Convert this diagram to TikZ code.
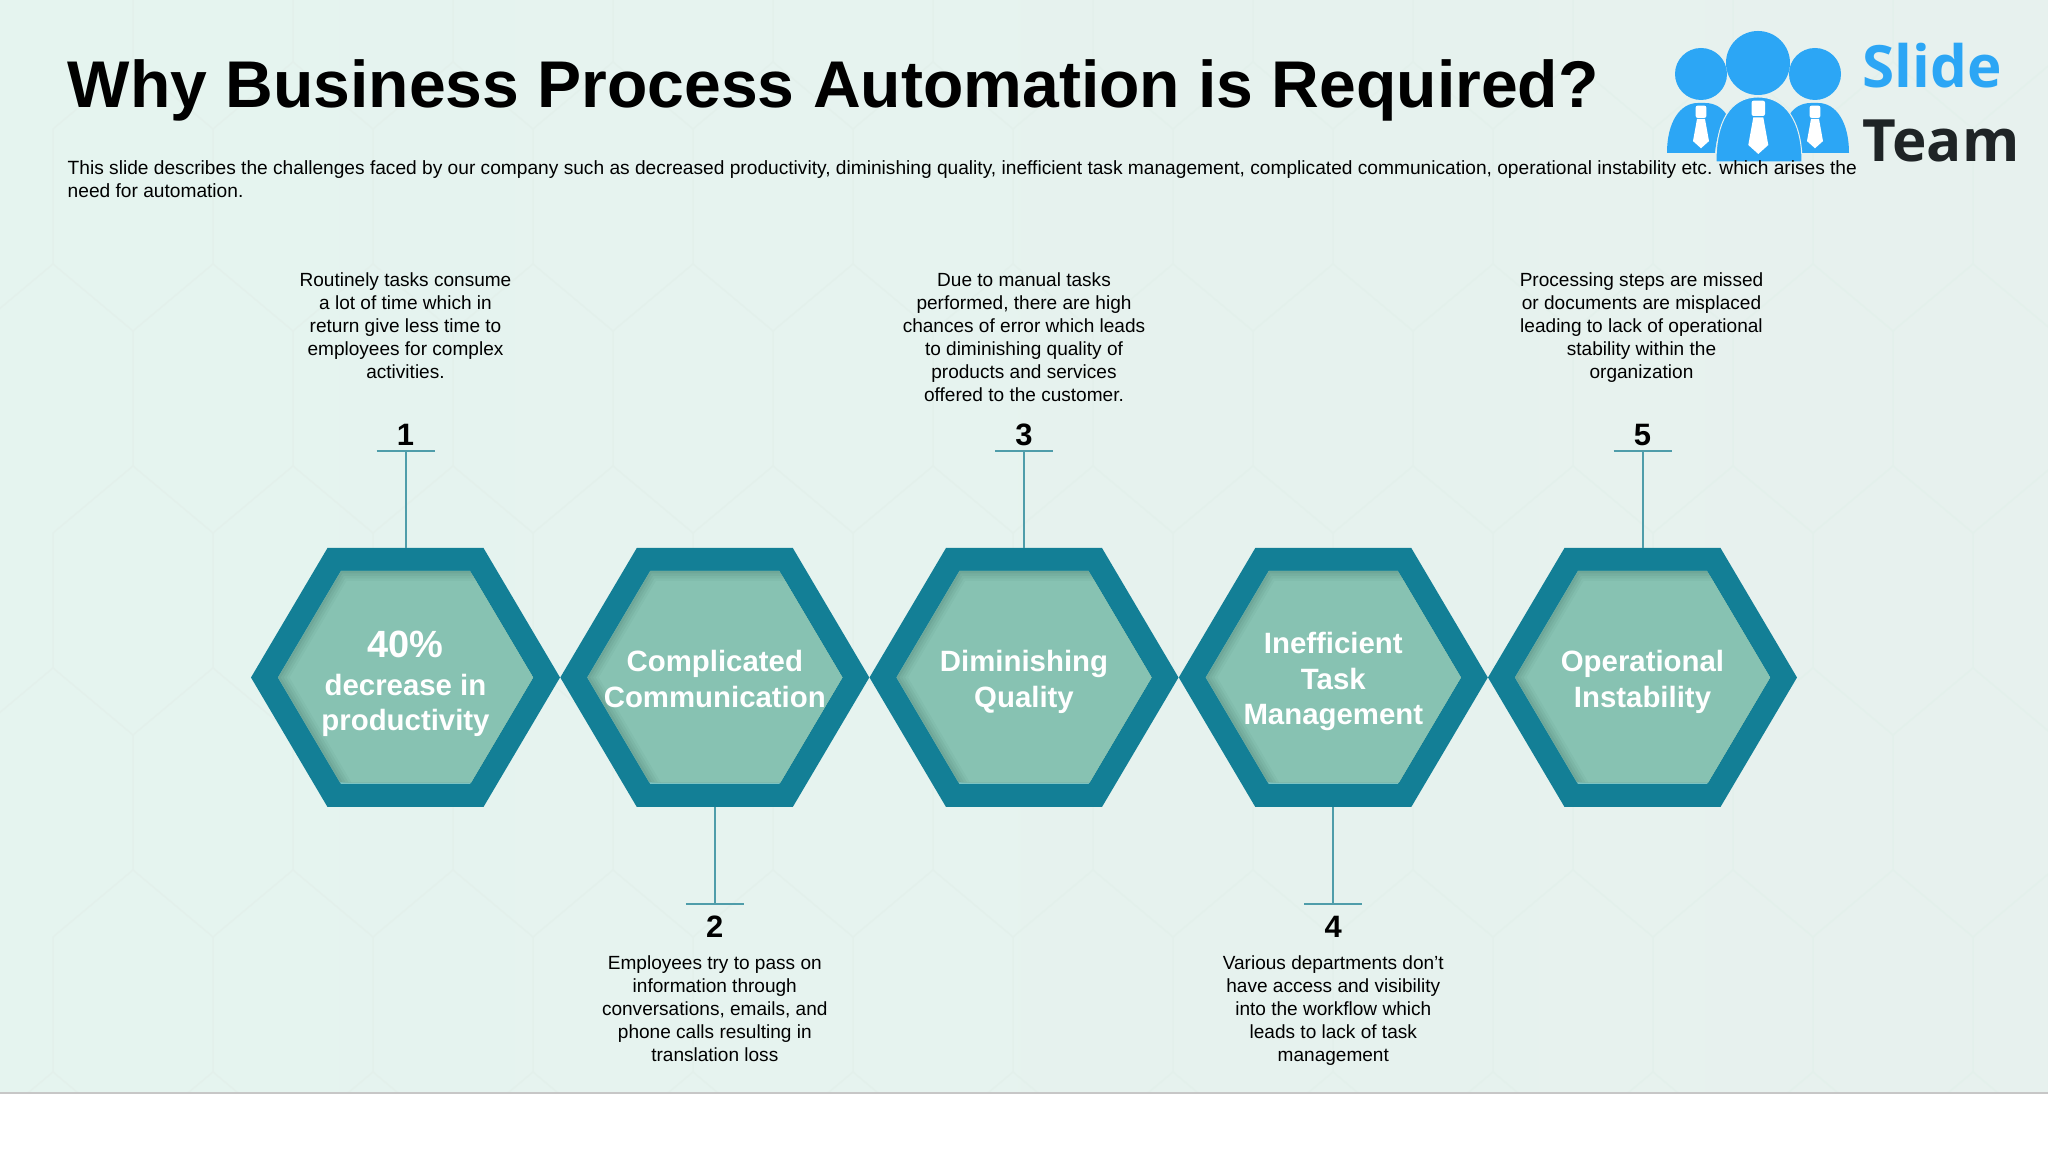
\documentclass[tikz,border=0pt]{standalone}
\usepackage{fontspec}
\setmainfont{Liberation Sans}
\newfontfamily\logofont{Open Sans}
\usetikzlibrary{positioning}

\definecolor{slideleft}{HTML}{E5F4EF}
\definecolor{slideright}{HTML}{E7F1EE}
\definecolor{combline}{HTML}{E3F0EB}
\definecolor{hexrim}{HTML}{137F96}
\definecolor{hexcore}{HTML}{87C2B2}
\definecolor{hexshade}{HTML}{6FA798}
\definecolor{hexlow}{HTML}{7CC4C4}
\definecolor{stemcol}{HTML}{4F9DAA}
\definecolor{logoblue}{HTML}{2CA6F5}
\definecolor{logodark}{HTML}{1F2426}

\tikzset{
    hexlabel/.style={text=white, font=\fontsize{8.36}{10.2}\selectfont\bfseries, align=center, inner sep=0pt},
    hexnum/.style={font=\fontsize{8.8}{10}\selectfont\bfseries, inner sep=0pt},
    hexnote/.style={font=\fontsize{5.42}{6.56}\selectfont, align=center, inner sep=0pt},
    logoword/.style={font=\fontsize{16.6}{18}\selectfont\logofont\bfseries, anchor=base west, inner sep=0pt},
    stem/.style={stemcol, line width=.2mm},
    tick/.style={stemcol, line width=.15mm},
}

\begin{document}
\begin{tikzpicture}

    \useasboundingbox (0,0) rectangle (20.48,11.52);
    \fill[white] (0,0) rectangle (20.48,11.52);
    \shade[left color=slideleft, right color=slideright] (0,.59) rectangle (20.48,11.52);

    % faint comb behind everything
    \begin{scope}
        \clip (0,.59) rectangle (20.48,11.52);
        \foreach \k in {0,...,25} {
            \foreach \r in {-2,...,3} {
                \pgfmathsetmacro{\xx}{.53+.8*\k}
                \pgfmathsetmacro{\yy}{4.84+4.04*\r+2.02*mod(\k,2)}
                \draw[combline, line width=.15mm] (\xx,\yy+1.35) -- (\xx,\yy) -- (\xx-.8,\yy-.67);
                \draw[combline, line width=.15mm] (\xx,\yy) -- (\xx+.8,\yy-.67);
            }
        }
    \end{scope}

    \draw[black!22, line width=.2mm] (0,.59) -- (20.48,.59);

    % logo
    \fill[logoblue] (17.01,10.78) circle (.26);
    \fill[logoblue] (18.15,10.78) circle (.26);
    \fill[logoblue] (17.58,10.89) circle (.32);
    \fill[logoblue] (16.67,9.99) .. controls (16.67,10.3) and (16.8,10.49) .. (16.98,10.49) -- (17.05,10.49) .. controls (17.15,10.49) and (17.22,10.44) .. (17.26,10.38) .. controls (17.2,10.25) and (17.16,10.12) .. (17.15,9.99) -- cycle;
    \fill[logoblue] (18.49,9.99) .. controls (18.49,10.3) and (18.36,10.49) .. (18.18,10.49) -- (18.11,10.49) .. controls (18.01,10.49) and (17.94,10.44) .. (17.9,10.38) .. controls (17.96,10.25) and (18,10.12) .. (18.01,9.99) -- cycle;
    \fill[logoblue, draw=slideright, line width=.1mm] (17.16,9.9) .. controls (17.16,10.3) and (17.3,10.55) .. (17.58,10.55) .. controls (17.86,10.55) and (18.02,10.3) .. (18.02,9.9) -- cycle;
    \foreach \tx/\ty/\ts in {17.01/10.037/.8, 17.583/9.98/1, 18.15/10.037/.8} {
        \fill[white, rounded corners=.2mm] (\tx-.067*\ts,\ty+.38*\ts) rectangle (\tx+.067*\ts,\ty+.533*\ts);
        \fill[white] (\tx-.05*\ts,\ty+.367*\ts) -- (\tx+.05*\ts,\ty+.367*\ts) -- (\tx+.1*\ts,\ty+.09*\ts) -- (\tx,\ty) -- (\tx-.1*\ts,\ty+.09*\ts) -- cycle;
    }
    \node[logoblue, logoword] (logoa) at (18.62,10.64) {Slide};
    \node[logodark, logoword] (logob) at (18.62,9.905) {Team};

    % heading
    \node[font=\fontsize{18.8}{22}\selectfont\bfseries, anchor=west, inner sep=0pt] (title) at (.67,10.62) {Why Business Process Automation is Required?};
    \node[font=\fontsize{5.45}{6.56}\selectfont, anchor=north west, align=left, inner sep=0pt] (intro) at (.67,9.92) {This slide describes the challenges faced by our company such as decreased productivity, diminishing quality, inefficient task management, complicated communication, operational instability etc. which arises the\\need for automation.};

    % hexagons
    \foreach \n/\cx/\dy/\lab in {
        1/4.055/-.065/{\fontsize{10.8}{13}\selectfont 40\%\\[.5pt]decrease in\\productivity},
        2/7.148/-.015/{Complicated\\Communication},
        3/10.24/-.04/{Diminishing\\Quality},
        4/13.333/-.04/{Inefficient\\Task\\Management},
        5/16.425/-.04/{Operational\\Instability}} {
        \begin{scope}[shift={(\cx,4.745)}]
            \fill[hexrim] (-1.545,0) -- (-.78,1.295) -- (.78,1.295) -- (1.545,0) -- (.78,-1.295) -- (-.78,-1.295) -- cycle;
            \fill[hexlow] (-1.275,0) -- (-.645,1.065) -- (.645,1.065) -- (1.275,0) -- (.645,-1.065) -- (-.645,-1.065) -- cycle;
            % soft inner shadow, top and left
            \foreach \d/\m in {0/0, .025/30, .05/55, .075/80, .1/100} {
                \fill[hexcore!\m!hexshade] (-1.275+1.16*\d,0) -- (-.645+.57*\d,1.065-\d) -- (.645+.59*\d,1.065-\d) -- (1.275,0) -- (.655,-1.05) -- (-.655+1.16*\d,-1.05) -- cycle;
            }
            \node[hexlabel] (hex\n) at (0,\dy) {\lab};
            \coordinate (hexedge\n) at (0,1.295);
            \coordinate (hexfoot\n) at (0,-1.295);
        \end{scope}
    }

    % numbered notes above
    \foreach \n/\cx/\txt in {
        1/4.055/{Routinely tasks consume\\a lot of time which in\\return give less time to\\employees for complex\\activities.},
        3/10.24/{Due to manual tasks\\performed, there are high\\chances of error which leads\\to diminishing quality of\\products and services\\offered to the customer.},
        5/16.415/{Processing steps are missed\\or documents are misplaced\\leading to lack of operational\\stability within the\\organization}} {
        \node[hexnote, anchor=north] (note\n) at (\cx,8.80) {\txt};
    }
    \foreach \n/\cx in {1/4.055, 3/10.24, 5/16.425} {
        \coordinate (top\n) at (\cx,7.01);
        \draw[stem] (hexedge\n) -- (top\n);
        \draw[tick] ([xshift=-.29cm]top\n) -- ([xshift=.29cm]top\n);
        \node[hexnum] (num\n) at (\cx,7.17) {\n};
    }

    % numbered notes below
    \foreach \n/\cx/\txt in {
        2/7.148/{Employees try to pass on\\information through\\conversations, emails, and\\phone calls resulting in\\translation loss},
        4/13.333/{Various departments don’t\\have access and visibility\\into the workflow which\\leads to lack of task\\management}} {
        \coordinate (top\n) at (\cx,2.48);
        \draw[stem] (hexfoot\n) -- (top\n);
        \draw[tick] ([xshift=-.29cm]top\n) -- ([xshift=.29cm]top\n);
        \node[hexnum] (num\n) at (\cx,2.25) {\n};
        \node[hexnote, anchor=north] (note\n) at (\cx,1.97) {\txt};
    }

\end{tikzpicture}
\end{document}
